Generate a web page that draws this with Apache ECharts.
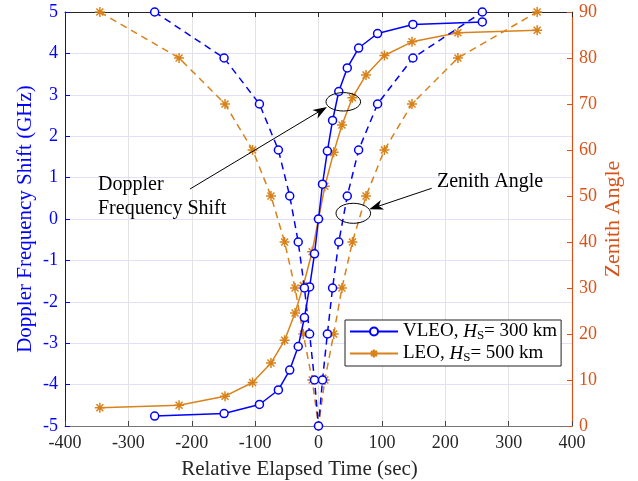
<!DOCTYPE html>
<html>
<head>
<meta charset="utf-8">
<script src="https://cdn.jsdelivr.net/npm/echarts@6/dist/echarts.min.js"></script>
<style>
  html, body { margin: 0; padding: 0; background: #fff; }
  #chart { width: 638px; height: 481px; }
</style>
</head>
<body>
<div id="chart"></div>
<script>
// values
var vleoTime    = [-258.5, -149, -93.2, -63.3, -45.4, -32, -22.2, -14, -6.3, 0, 6.3, 14, 22.2, 32, 45.4, 63.3, 93.2, 149, 258.5];
var vleoDoppler = [-4.76, -4.70, -4.48, -4.13, -3.65, -3.08, -2.38, -1.64, -0.84, 0, 0.84, 1.64, 2.38, 3.08, 3.65, 4.13, 4.48, 4.70, 4.76];
var vleoZenith  = [90, 80, 70, 60, 50, 40, 30, 20, 10, 0, 10, 20, 30, 40, 50, 60, 70, 80, 90];
var leoTime     = [-345, -220, -147.5, -104, -75, -53.5, -37, -24, -10, 0, 10, 24, 37, 53.5, 75, 104, 147.5, 220, 345];
var leoDoppler  = [-4.56, -4.50, -4.28, -3.95, -3.48, -2.93, -2.27, -1.61, -0.79, 0, 0.79, 1.61, 2.27, 2.93, 3.48, 3.95, 4.28, 4.50, 4.56];
var leoZenith   = [90, 80, 70, 60, 50, 40, 30, 20, 10, 0, 10, 20, 30, 40, 50, 60, 70, 80, 90];

var blue = '#0000ff';
var orange = '#d9821a';
var red = '#d95319';
var serif = '"Liberation Serif", "DejaVu Serif", serif';
var star = 'path://M0,-5L0,5M-5,0L5,0M-3.5,-3.5L3.5,3.5M-3.5,3.5L3.5,-3.5';

function pairs(xs, ys) {
  var out = [];
  xs.forEach(function (x, i) { out.push([x, ys[i]]); });
  return out;
}

function arrowHead(x1, y1, x2, y2) {
  var dx = x2 - x1, dy = y2 - y1;
  var len = Math.sqrt(dx * dx + dy * dy);
  var ux = dx / len, uy = dy / len;
  var px = -uy, py = ux;
  var L = 14, W = 5, I = 10;
  return [
    [x2, y2],
    [x2 - L * ux + W * px, y2 - L * uy + W * py],
    [x2 - I * ux, y2 - I * uy],
    [x2 - L * ux - W * px, y2 - L * uy - W * py]
  ];
}

var myChart = echarts.init(document.getElementById('chart'));
var option = {
  animation: false,
  backgroundColor: '#fff',
  grid: { left: 65, right: 66, top: 12, bottom: 55, containLabel: false, outerBoundsMode: 'none' },
  legend: {
    data: ['VLEO', 'LEO'],
    orient: 'vertical',
    left: 345,
    top: 320,
    itemWidth: 48,
    itemHeight: 10,
    itemGap: 2,
    padding: [2, 4, 2, 4],
    borderColor: '#222',
    borderWidth: 1,
    backgroundColor: '#fff',
    borderRadius: 0,
    formatter: function (name) {
      if (name === 'VLEO') return '{n|VLEO, }{i|H}{s|S}{n|= 300 km}';
      return '{n|LEO, }{i|H}{s|S}{n|= 500 km}';
    },
    textStyle: {
      fontFamily: serif,
      fontSize: 19,
      color: '#000',
      rich: {
        n: { fontFamily: serif, fontSize: 19, color: '#000', lineHeight: 21, verticalAlign: 'middle' },
        i: { fontFamily: serif, fontSize: 19, color: '#000', fontStyle: 'italic', lineHeight: 21, verticalAlign: 'middle' },
        s: { fontFamily: serif, fontSize: 13, color: '#000', lineHeight: 21, verticalAlign: 'bottom' }
      }
    }
  },
  xAxis: [
    {
      type: 'value', min: -400, max: 400, interval: 100,
      name: 'Relative Elapsed Time (sec)',
      nameLocation: 'middle', nameGap: 33, nameMoveOverlap: false,
      nameTextStyle: { fontFamily: serif, fontSize: 21, color: '#262626', padding: [0, 38, 0, 0] },
      axisLine: { show: true, onZero: false, lineStyle: { color: '#777', width: 1 } },
      axisTick: { show: true, inside: true, length: 5, lineStyle: { color: '#444' } },
      axisLabel: { fontFamily: serif, fontSize: 18, color: '#262626', margin: 8 },
      splitLine: { show: true, lineStyle: { color: '#e3e3e3', width: 1 } }
    },
    {
      type: 'value', min: -400, max: 400, interval: 100, position: 'top',
      axisLine: { show: true, onZero: false, lineStyle: { color: '#262626', width: 1 } },
      axisTick: { show: true, inside: true, length: 5, lineStyle: { color: '#262626' } },
      axisLabel: { show: false },
      splitLine: { show: false }
    }
  ],
  yAxis: [
    {
      type: 'value', min: -5, max: 5, interval: 1,
      name: 'Doppler Frequency Shift (GHz)',
      nameLocation: 'middle', nameGap: 29, nameMoveOverlap: false,
      nameTextStyle: { fontFamily: serif, fontSize: 21, color: blue },
      axisLine: { show: true, onZero: false, lineStyle: { color: blue, width: 1 } },
      axisTick: { show: true, inside: true, length: 5, lineStyle: { color: blue } },
      axisLabel: { fontFamily: serif, fontSize: 18, color: blue, margin: 7 },
      splitLine: { show: true, lineStyle: { color: '#e0e0fb', width: 1 } }
    },
    {
      type: 'value', min: 0, max: 90, interval: 10,
      name: 'Zenith Angle',
      nameLocation: 'middle', nameGap: 30, nameRotate: 90, nameMoveOverlap: false,
      nameTextStyle: { fontFamily: serif, fontSize: 22, color: red },
      axisLine: { show: true, onZero: false, lineStyle: { color: red, width: 1.2 } },
      axisTick: { show: true, inside: true, length: 5, lineStyle: { color: red } },
      axisLabel: { fontFamily: serif, fontSize: 18, color: red, margin: 7 },
      splitLine: { show: false }
    }
  ],
  series: [
    {
      name: 'VLEO', type: 'line', yAxisIndex: 0,
      data: pairs(vleoTime, vleoDoppler),
      symbol: 'circle', symbolSize: 8, showAllSymbol: true,
      lineStyle: { color: blue, width: 1.5 },
      itemStyle: { color: '#fff', borderColor: blue, borderWidth: 1.5 },
      z: 4
    },
    {
      name: 'LEO', type: 'line', yAxisIndex: 0,
      data: pairs(leoTime, leoDoppler),
      symbol: star, symbolSize: 10, showAllSymbol: true,
      lineStyle: { color: orange, width: 1.5 },
      itemStyle: { color: orange, borderColor: orange, borderWidth: 1.5 },
      z: 3
    },
    {
      name: 'VLEO zenith', type: 'line', yAxisIndex: 1,
      data: pairs(vleoTime, vleoZenith),
      symbol: 'circle', symbolSize: 8, showAllSymbol: true,
      lineStyle: { color: blue, width: 1.5, type: [7, 5] },
      itemStyle: { color: '#fff', borderColor: blue, borderWidth: 1.5 },
      z: 4
    },
    {
      name: 'LEO zenith', type: 'line', yAxisIndex: 1,
      data: pairs(leoTime, leoZenith),
      symbol: star, symbolSize: 10, showAllSymbol: true,
      lineStyle: { color: orange, width: 1.5, type: [7, 5] },
      itemStyle: { color: orange, borderColor: orange, borderWidth: 1.5 },
      z: 3
    }
  ],
  graphic: [
    { type: 'text', left: 98, top: 173, z: 10, style: { text: 'Doppler\nFrequency Shift', font: '20px ' + serif, fill: '#000', lineHeight: 24 } },
    { type: 'text', left: 437, top: 172, z: 10, style: { text: 'Zenith Angle', font: '20px ' + serif, fill: '#000' } },
    { type: 'line', z: 10, shape: { x1: 190, y1: 189, x2: 320, y2: 111 }, style: { stroke: '#000', lineWidth: 1 } },
    { type: 'polygon', z: 10, shape: { points: arrowHead(190, 189, 327, 107) }, style: { fill: '#000' } },
    { type: 'ellipse', z: 10, shape: { cx: 343.3, cy: 101.8, rx: 17.3, ry: 9.2 }, style: { fill: 'none', stroke: '#000', lineWidth: 1 } },
    { type: 'line', z: 10, shape: { x1: 431.7, y1: 188.3, x2: 376, y2: 207 }, style: { stroke: '#000', lineWidth: 1 } },
    { type: 'polygon', z: 10, shape: { points: arrowHead(431.7, 188.3, 369.3, 209.3) }, style: { fill: '#000' } },
    { type: 'ellipse', z: 10, shape: { cx: 353.3, cy: 213.3, rx: 17.3, ry: 10 }, style: { fill: 'none', stroke: '#000', lineWidth: 1 } }
  ]
};
option && myChart.setOption(option);
</script>
</body>
</html>
